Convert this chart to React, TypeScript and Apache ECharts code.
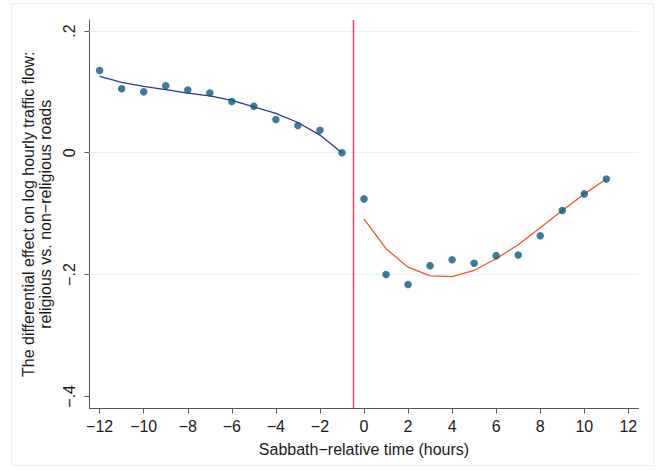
import React, { useEffect, useRef } from "react";
import * as echarts from "echarts";

const preHours = [-12, -11, -10, -9, -8, -7, -6, -5, -4, -3, -2, -1];
const preEstimates = [0.135, 0.105, 0.1, 0.11, 0.103, 0.098, 0.084, 0.0764, 0.0547, 0.0448, 0.037, 0.0];
const preFit = [0.1255, 0.1157, 0.109, 0.1036, 0.098, 0.0933, 0.086, 0.0753, 0.0645, 0.0497, 0.029, 0.0];

const postHours = [0, 1, 2, 3, 4, 5, 6, 7, 8, 9, 10, 11];
const postEstimates = [-0.0758, -0.2, -0.2165, -0.1854, -0.1756, -0.1816, -0.169, -0.168, -0.1363, -0.0949, -0.0676, -0.043];
const postFit = [-0.1085, -0.1576, -0.188, -0.2023, -0.2034, -0.193, -0.174, -0.151, -0.1232, -0.0949, -0.0676, -0.043];

const xTicks = [-12, -10, -8, -6, -4, -2, 0, 2, 4, 6, 8, 10, 12];
const yTicks = [-0.4, -0.2, 0, 0.2];
const gridLineValues = [-0.2, 0, 0.2];
const sabbathStart = -0.5;

const FONT = "'Liberation Sans', Arial, Helvetica, sans-serif";

function fmtX(v: number) {
  if (v === 0) return "0";
  return (v < 0 ? "\u2212" : "") + String(Math.abs(v));
}
function fmtY(v: number) {
  const r = Math.round(v * 10) / 10;
  if (r === 0) return "0";
  return (r < 0 ? "\u2212" : "") + String(Math.abs(r)).replace(/^0/, "");
}

export default function App() {
  const ref = useRef<HTMLDivElement>(null);
  useEffect(() => {
    if (!ref.current) return;
    const chart = echarts.init(ref.current, undefined, { renderer: "svg" });
    const pair = (xs: number[], ys: number[]) => xs.map((x, i) => [x, ys[i]]);
    chart.setOption({
      animation: false,
      backgroundColor: "#ffffff",
      textStyle: { fontFamily: FONT },
      grid: { left: 89.5, right: 658 - 638.5, top: 20, bottom: 471 - 408.5, containLabel: false },
      graphic: [
        {
          type: "rect",
          shape: { x: 11.5, y: 3.5, width: 642, height: 462 },
          style: { fill: "none", stroke: "#e6eef0", lineWidth: 1 },
          silent: true,
        },
      ],
      xAxis: {
        type: "value",
        min: -12.46,
        max: 12.46,
        name: "Sabbath\u2212relative time (hours)",
        nameLocation: "middle",
        nameGap: 33,
        nameTextStyle: { fontSize: 16, color: "#1a1a1a", fontFamily: FONT },
        axisLine: { onZero: false, lineStyle: { color: "#555555", width: 1 } },
        axisTick: { show: true, length: 5, customValues: xTicks, lineStyle: { color: "#555555" } },
        axisLabel: {
          customValues: xTicks,
          formatter: (v: number) => fmtX(v),
          fontSize: 16,
          color: "#1a1a1a",
          margin: 10,
          fontFamily: FONT,
        },
        splitLine: { show: false },
      },
      yAxis: {
        type: "value",
        min: -0.42,
        max: 0.218,
        name: "The differential effect on log hourly traffic flow:\nreligious vs. non\u2212religious roads",
        nameLocation: "middle",
        nameRotate: 90,
        nameGap: 30,
        nameTextStyle: { fontSize: 16, color: "#1a1a1a", lineHeight: 17, fontFamily: FONT, align: "center" },
        axisLine: { onZero: false, lineStyle: { color: "#555555", width: 1 } },
        axisTick: { show: true, length: 5, customValues: yTicks, lineStyle: { color: "#555555" } },
        axisLabel: {
          customValues: yTicks,
          formatter: (v: number) => fmtY(v),
          rotate: 90,
          fontSize: 16,
          color: "#1a1a1a",
          margin: 12,
          fontFamily: FONT,
        },
        splitLine: { show: false },
      },
      series: [
        {
          type: "line",
          data: pair(preHours, preFit),
          symbol: "none",
          lineStyle: { color: "#2e3494", width: 1.3 },
          z: 3,
          markLine: {
            silent: true,
            symbol: "none",
            label: { show: false },
            lineStyle: { color: "#e4f1f2", width: 1.2, type: "solid" },
            data: gridLineValues.map((v) => ({ yAxis: v })),
            z: 1,
          },
        },
        {
          type: "line",
          data: pair(postHours, postFit),
          symbol: "none",
          lineStyle: { color: "#f0552c", width: 1.3 },
          z: 3,
          markLine: {
            silent: true,
            symbol: "none",
            label: { show: false },
            lineStyle: { color: "#e23a5e", width: 1.4, type: "solid" },
            data: [{ xAxis: sabbathStart }],
          },
        },
        {
          type: "scatter",
          data: pair(preHours, preEstimates),
          symbol: "circle",
          symbolSize: 7.5,
          itemStyle: { color: "#0b5a84" },
          z: 4,
        },
        {
          type: "scatter",
          data: pair(postHours, postEstimates),
          symbol: "circle",
          symbolSize: 7.5,
          itemStyle: { color: "#0b5a84" },
          z: 4,
        },
      ],
    });
    return () => chart.dispose();
  }, []);
  return (
    <div
      ref={ref}
      style={{ position: "fixed", left: 0, top: 0, width: 658, height: 471, background: "#fff" }}
    />
  );
}
